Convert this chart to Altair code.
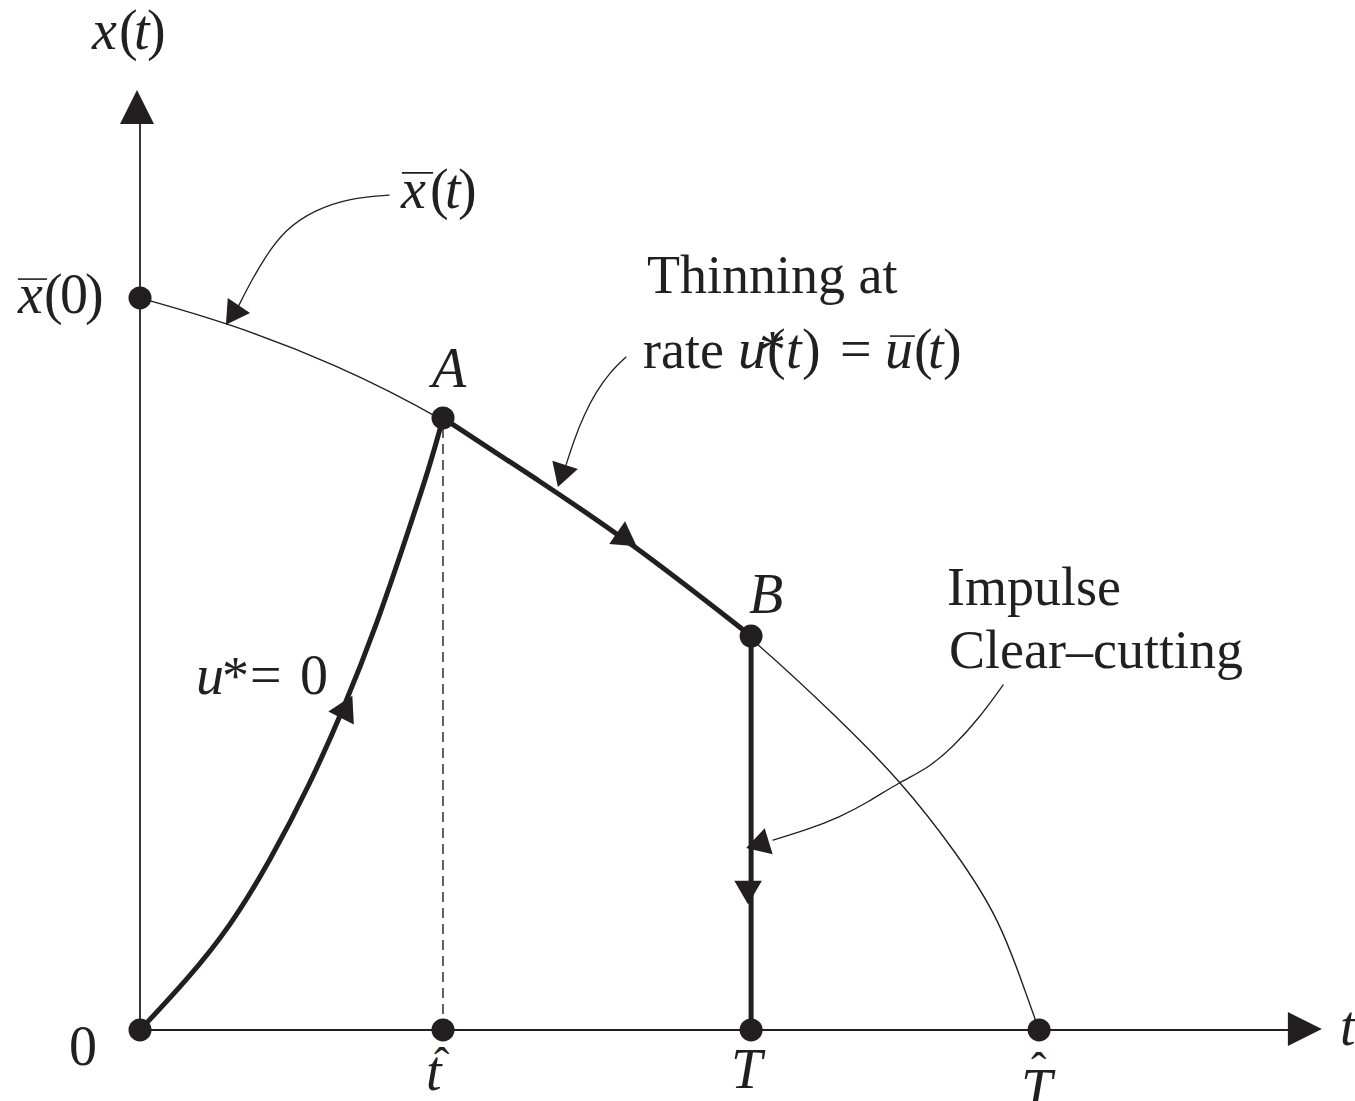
import altair as alt
import pandas as pd

INK = "#231f20"
FONT = "Liberation Serif"

# ---------------- curve data (t, x) ----------------
# Natural stand trajectory x̄(t)
xbar_t = [0.0, 0.293, 0.647, 1.01, 1.327, 1.64, 2.037, 2.333, 2.533, 2.723, 2.867, 2.957, 2.997]
xbar_x = [2.44, 2.357, 2.223, 2.04, 1.833, 1.623, 1.313, 1.033, 0.833, 0.59, 0.367, 0.11, 0.0]

# Growth with no thinning (u* = 0) from the origin up to A
rise_t = [0.0, 0.157, 0.3, 0.433, 0.567, 0.677, 0.79, 0.89, 0.967, 1.01]
rise_x = [0.0, 0.167, 0.343, 0.563, 0.82, 1.067, 1.353, 1.65, 1.883, 2.04]

# Key instants
t_hat = 1.01      # reach of x̄ at A
T_cut = 2.037     # clear-cutting time (B)
T_hat = 2.997     # x̄(T̂) = 0
x_A = 2.04
x_B = 1.313

# Leader curves for the annotations
lead_xbar_t = [0.327, 0.36, 0.417, 0.483, 0.58, 0.7, 0.83]
lead_xbar_x = [2.41, 2.477, 2.577, 2.667, 2.733, 2.773, 2.783]
lead_thin_t = [1.42, 1.447, 1.48, 1.52, 1.567, 1.62]
lead_thin_x = [1.883, 1.967, 2.05, 2.127, 2.193, 2.243]
lead_imp_t = [2.11, 2.223, 2.333, 2.423, 2.533, 2.623, 2.71, 2.8, 2.877]
lead_imp_x = [0.633, 0.667, 0.71, 0.757, 0.827, 0.87, 0.943, 1.043, 1.15]

# Axis extents
t_axis_end = 3.833
x_axis_end = 3.02

XS = alt.Scale(domain=[-0.4667, 4.05], nice=False, zero=False)
YS = alt.Scale(domain=[-0.2367, 3.4333], nice=False, zero=False)


def pos(tf="t", xf="x"):
    return dict(
        x=alt.X(f"{tf}:Q", scale=XS, axis=None),
        y=alt.Y(f"{xf}:Q", scale=YS, axis=None),
    )


def curve(ts, xs, width):
    df = pd.DataFrame({"t": ts, "x": xs})
    return alt.Chart(df).mark_line(
        color=INK, strokeWidth=width, interpolate="basis", strokeCap="round"
    ).encode(**pos())


def segment(rows, width, dash=None):
    df = pd.DataFrame(rows, columns=["t", "x", "t2", "x2"])
    kw = dict(color=INK, strokeWidth=width)
    if dash:
        kw["strokeDash"] = dash
    return alt.Chart(df).mark_rule(**kw).encode(
        **pos(), x2=alt.X2("t2:Q"), y2=alt.Y2("x2:Q")
    )


# axes
axes = segment([[0, 0, t_axis_end, 0], [0, 0, 0, x_axis_end]], 1.8)
# dashed drop line from A
drop = segment([[t_hat, 0, t_hat, x_A]], 1.4, dash=[10, 6])
# impulse clear-cutting at T
cut = segment([[T_cut, 0, T_cut, x_B]], 5)

thin_curve = curve(xbar_t, xbar_x, 1.4)
thinning = curve([t for t in xbar_t if t_hat <= t <= T_cut],
                 [x for t, x in zip(xbar_t, xbar_x) if t_hat <= t <= T_cut], 5)
rise = curve(rise_t, rise_x, 5)
leaders = [curve(lead_xbar_t, lead_xbar_x, 1.3),
           curve(lead_thin_t, lead_thin_x, 1.3),
           curve(lead_imp_t, lead_imp_x, 1.3)]

# arrowheads: centre, heading (degrees clockwise from up), size
heads = pd.DataFrame({
    "t": [0.689, 1.623, 2.027, 0.308, 1.405, 2.058],
    "x": [1.077, 1.635, 0.458, 2.383, 1.847, 0.618],
    "angle": [27, 125, 180, 214, 198, 253],
    "size": [820, 760, 760, 720, 720, 740],
})
arrowheads = alt.Chart(heads).mark_point(
    shape="triangle-up", filled=True, color=INK, opacity=1, strokeWidth=0
).encode(**pos(), angle=alt.Angle("angle:Q", scale=None), size=alt.Size("size:Q", scale=None))

axis_heads_df = pd.DataFrame({"t": [-0.01, 3.883], "x": [3.077, 0.003], "angle": [0, 90]})
axis_heads = alt.Chart(axis_heads_df).mark_point(
    shape="M0,-1L1,1L-1,1Z", filled=True, color=INK, opacity=1, strokeWidth=0, size=1156
).encode(**pos(), angle=alt.Angle("angle:Q", scale=None))

# marked points
dots_df = pd.DataFrame({
    "t": [0.0, t_hat, T_cut, 0.0, t_hat, T_cut, T_hat],
    "x": [2.44, x_A, x_B, 0.0, 0.0, 0.0, 0.0],
})
dots = alt.Chart(dots_df).mark_circle(color=INK, opacity=1, size=529).encode(**pos())

# ---------------- labels ----------------
M, W, H = 56, 54, 46  # math glyphs, words, accents
labels = [
    # x(t)
    ("x", -0.16, 3.27, True, M), ("(", -0.07, 3.27, False, M),
    ("t", -0.02, 3.27, True, M), (")", 0.023, 3.27, False, M),
    # x̄(0)
    ("x", -0.407, 2.39, True, M), ("(", -0.32, 2.39, False, M),
    ("0", -0.267, 2.39, False, M), (")", -0.183, 2.39, False, M),
    # x̄(t)
    ("x", 0.87, 2.74, True, M), ("(", 0.967, 2.74, False, M),
    ("t", 1.017, 2.74, True, M), (")", 1.06, 2.74, False, M),
    # points
    ("A", 0.973, 2.143, True, M), ("B", 2.03, 1.39, True, M),
    # thinning note
    ("Thinning at", 1.69, 2.457, False, W),
    ("rate", 1.677, 2.207, False, W),
    ("u", 1.993, 2.207, True, M), ("*", 2.063, 2.207, False, W),
    ("(", 2.09, 2.207, False, M), ("t", 2.153, 2.207, True, M),
    (")", 2.207, 2.207, False, M), ("=", 2.333, 2.207, False, M),
    ("u", 2.483, 2.207, True, M), ("(", 2.58, 2.207, False, M),
    ("t", 2.627, 2.207, True, M), (")", 2.677, 2.207, False, M),
    # u* = 0
    ("u", 0.187, 1.12, True, M), ("*", 0.273, 1.12, False, W),
    ("=", 0.367, 1.12, False, M), ("0", 0.533, 1.12, False, M),
    # impulse note
    ("Impulse", 2.69, 1.417, False, W),
    ("Clear\u2013cutting", 2.697, 1.207, False, W),
    # axis marks
    ("0", -0.237, -0.117, False, M),
    ("t", 0.953, -0.2, True, M), ("\u02c6", 0.98, -0.167, False, H),
    ("T", 1.97, -0.193, True, M),
    ("T", 2.937, -0.26, True, M), ("\u02c6", 2.97, -0.183, False, H),
    ("t", 4.0, -0.05, True, M),
]
lab_df = pd.DataFrame(labels, columns=["text", "t", "x", "italic", "fs"])


def text_layer(italic):
    return alt.Chart(lab_df).transform_filter(
        alt.datum.italic == italic
    ).mark_text(
        font=FONT, color=INK, align="left", baseline="alphabetic",
        fontStyle="italic" if italic else "normal",
    ).encode(**pos(), text="text:N", size=alt.Size("fs:Q", scale=None))


# bars over x̄ and ū
bars = segment([[-0.407, 2.503, -0.31, 2.503],
                [0.873, 2.857, 0.977, 2.857],
                [2.5, 2.313, 2.583, 2.313]], 1.6)

chart = alt.layer(
    axes, drop, thin_curve, *leaders, rise, thinning, cut,
    arrowheads, axis_heads, dots, text_layer(False), text_layer(True), bars,
).properties(
    width=1355, height=1101, padding=0,
    autosize=alt.AutoSizeParams(type="none"),
    background="white",
).configure_view(stroke=None)

chart.save("out.html", embed_options={"renderer": "svg", "actions": False})
